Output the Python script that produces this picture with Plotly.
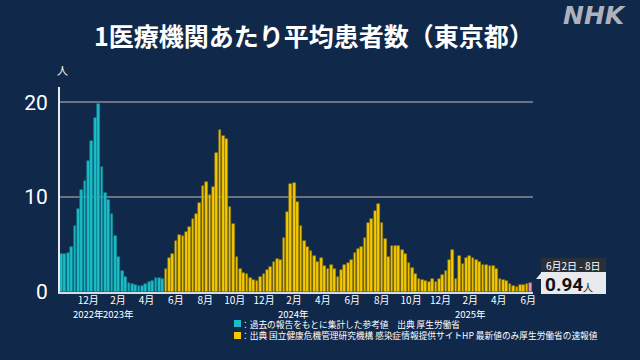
import pandas as pd
import plotly.graph_objects as go

# ---- data (weekly, week starting Monday) ----
first_week = "2022-10-03"
# reference values (past reports), Oct 2022 - May 2023
ref_values = [3.96, 3.96, 4.14, 4.7, 6.95, 8.74, 10.7, 11.7, 13.8, 15.86,
              18.35, 19.8, 13.16, 10.46, 9.68, 8.25, 5.86, 3.68, 2.25, 1.6,
              0.91, 0.84, 0.77, 0.6, 0.6, 0.8, 1.09, 1.12, 1.44, 1.5, 1.4]
# sentinel surveillance values, May 2023 onward
niid_values = [2.39, 3.54, 3.96, 5.33, 6.0, 5.88, 6.28, 6.9, 7.65, 8.25,
               9.4, 11.16, 11.6, 10.25, 11.05, 14.63, 17.05, 16.46, 16.1, 8.95,
               7.12, 3.68, 2.39, 2.04, 1.9, 1.5, 1.23, 1.19, 1.58, 1.93,
               2.35, 2.63, 3.16, 3.44, 3.4, 5.72, 8.42, 11.33, 11.47, 9.44,
               6.95, 5.33, 4.7, 4.32, 3.79, 3.12, 3.54, 2.77, 2.46, 2.84,
               2.46, 1.58, 2.32, 2.81, 3.02, 3.4, 4.14, 4.56, 4.74, 5.65,
               7.23, 7.65, 8.56, 9.23, 7.3, 5.58, 3.68, 4.84, 4.84, 4.84,
               4.46, 4.0, 3.09, 2.49, 1.86, 1.33, 1.23, 1.16, 1.09, 1.33,
               1.02, 1.37, 1.75, 2.25, 3.33, 4.39, 1.37, 3.75, 2.95, 3.54,
               3.75, 3.61, 3.33, 3.19, 2.84, 2.84, 2.74, 2.74, 2.39, 1.33,
               1.26, 1.16, 0.88, 0.63, 0.49, 0.7, 0.7, 0.88]
latest_value = 0.94
latest_label = "6月2日 - 8日"

tick_dates = ["2022-12-01", "2023-02-01", "2023-04-01", "2023-06-01", "2023-08-01",
              "2023-10-01", "2023-12-01", "2024-02-01", "2024-04-01", "2024-06-01",
              "2024-08-01", "2024-10-01", "2024-12-01", "2025-02-01", "2025-04-01",
              "2025-06-01"]
tick_labels = ["12月", "2月", "4月", "6月", "8月", "10月", "12月", "2月", "4月", "6月",
               "8月", "10月", "12月", "2月", "4月", "6月"]
year_dates = ["2022-12-01", "2023-02-01", "2024-02-01", "2025-02-01"]
year_labels = ["2022年", "2023年", "2024年", "2025年"]

title_text = "1医療機関あたり平均患者数（東京都）"
legend_ref = "：過去の報告をもとに集計した参考値　出典 厚生労働省"
legend_niid = "：出典 国立健康危機管理研究機構 感染症情報提供サイトHP 最新値のみ厚生労働省の速報値"

# ---- build ----
n_total = len(ref_values) + len(niid_values) + 1
weeks = pd.date_range(first_week, periods=n_total, freq="7D") + pd.Timedelta(hours=84)
ref_x = weeks[:len(ref_values)]
niid_x = weeks[len(ref_values):len(ref_values) + len(niid_values)]
last_x = weeks[-1:]

BG = "#10284a"
CYAN = "#1cbcc8"
YELLOW = "#f5c800"
PINK = "#e99aa2"
FONT = "Noto Sans CJK JP"
bw = 7 * 24 * 3600 * 1000 * 0.8

fig = go.Figure()
fig.add_trace(go.Bar(x=ref_x, y=ref_values, width=bw, marker_color=CYAN,
                     marker_line=dict(color="#0e7f8a", width=0.6), showlegend=False))
fig.add_trace(go.Bar(x=niid_x, y=niid_values, width=bw, marker_color=YELLOW,
                     marker_line=dict(color="#8a7208", width=0.6), showlegend=False))
fig.add_trace(go.Bar(x=last_x, y=[latest_value], width=bw, marker_color=PINK,
                     marker_line=dict(color="#9a5a60", width=0.6), showlegend=False))

W, H = 640, 360
L, R, T, B = 60, 533, 87, 292  # target pixels in the screenshot
def px(xp):
    return (xp - L) / (R - L)
def py(yp):
    return (B - yp) / (B - T)

fig.update_layout(
    width=W, height=H,
    margin=dict(l=L, r=W - R, t=T, b=H - B, autoexpand=False),
    paper_bgcolor=BG, plot_bgcolor=BG,
    bargap=0,
    font=dict(family=FONT, color="white"),
    xaxis=dict(type="date", range=["2022-10-03 12:00", "2025-06-11"],
               tickvals=tick_dates, ticktext=tick_labels,
               tickfont=dict(size=10, color="white", family=FONT),
               showgrid=False, zeroline=False, showline=True,
               linecolor="#d8dce2", linewidth=2, ticks="", ticklabelstandoff=-2),
    yaxis=dict(range=[0, 21.6], tickvals=[0, 10, 20],
               tickfont=dict(size=21, color="white", family="Roboto"),
               showgrid=True, gridcolor="#6b7380", gridwidth=1.5,
               zeroline=False, showline=True, linecolor="#e8eaee", linewidth=2,
               ticks="", ticklabelstandoff=6),
)

def note(text, xp, yp, size, color="white", family=FONT, xanchor="center"):
    return dict(text=text, x=px(xp), y=py(yp), xref="paper", yref="paper",
                xanchor=xanchor, yanchor="middle", showarrow=False, borderpad=0,
                font=dict(size=size, color=color, family=family))

ann = []
ann.append(note("<b>" + title_text + "</b>", 314, 35, 25))
ann.append(note("<b><i>NHK</i></b>", 594, 16, 25, color="#aeb2ba", family="DejaVu Sans"))
ann.append(note("人", 62, 70, 11))
for d, t in zip(year_dates, year_labels):
    ann.append(dict(text=t, x=d, y=py(313.5), xref="x", yref="paper", showarrow=False,
                    xanchor="center", yanchor="middle", borderpad=0,
                    font=dict(size=9.5, color="white", family=FONT)))
ann.append(note(legend_ref, 240, 324, 8.7, xanchor="left"))
ann.append(note(legend_niid, 240, 335.5, 8.7, xanchor="left"))
# callout box
ann.append(note(latest_label, 573.5, 265, 10))
ann.append(note("<b>%.2f</b><span style='font-size:10px'>人</span>" % latest_value,
                544, 284, 19, color="#111111", family="Roboto", xanchor="left"))
fig.update_layout(annotations=ann)

def rect(x0, x1, y0, y1, color):
    return dict(type="rect", xref="paper", yref="paper", x0=px(x0), x1=px(x1),
                y0=py(y1), y1=py(y0), fillcolor=color, line=dict(width=0), layer="above")

shapes = [
    rect(234, 241, 320, 327, CYAN),
    rect(234, 241, 332, 339, YELLOW),
    rect(541, 606, 258, 272, "#2b3038"),
    rect(541, 606, 272, 294, "#e9eaee"),
    dict(type="path", xref="paper", yref="paper",
         path="M %f %f L %f %f L %f %f Z" % (px(541), py(273), px(536), py(279), px(541), py(279)),
         fillcolor="#e9eaee", line=dict(width=0), layer="above"),
]
fig.update_layout(shapes=shapes)

fig.write_html("out.html", config={"displayModeBar": False},
               post_script="document.body.style.margin='0px';document.body.style.overflow='hidden';")
